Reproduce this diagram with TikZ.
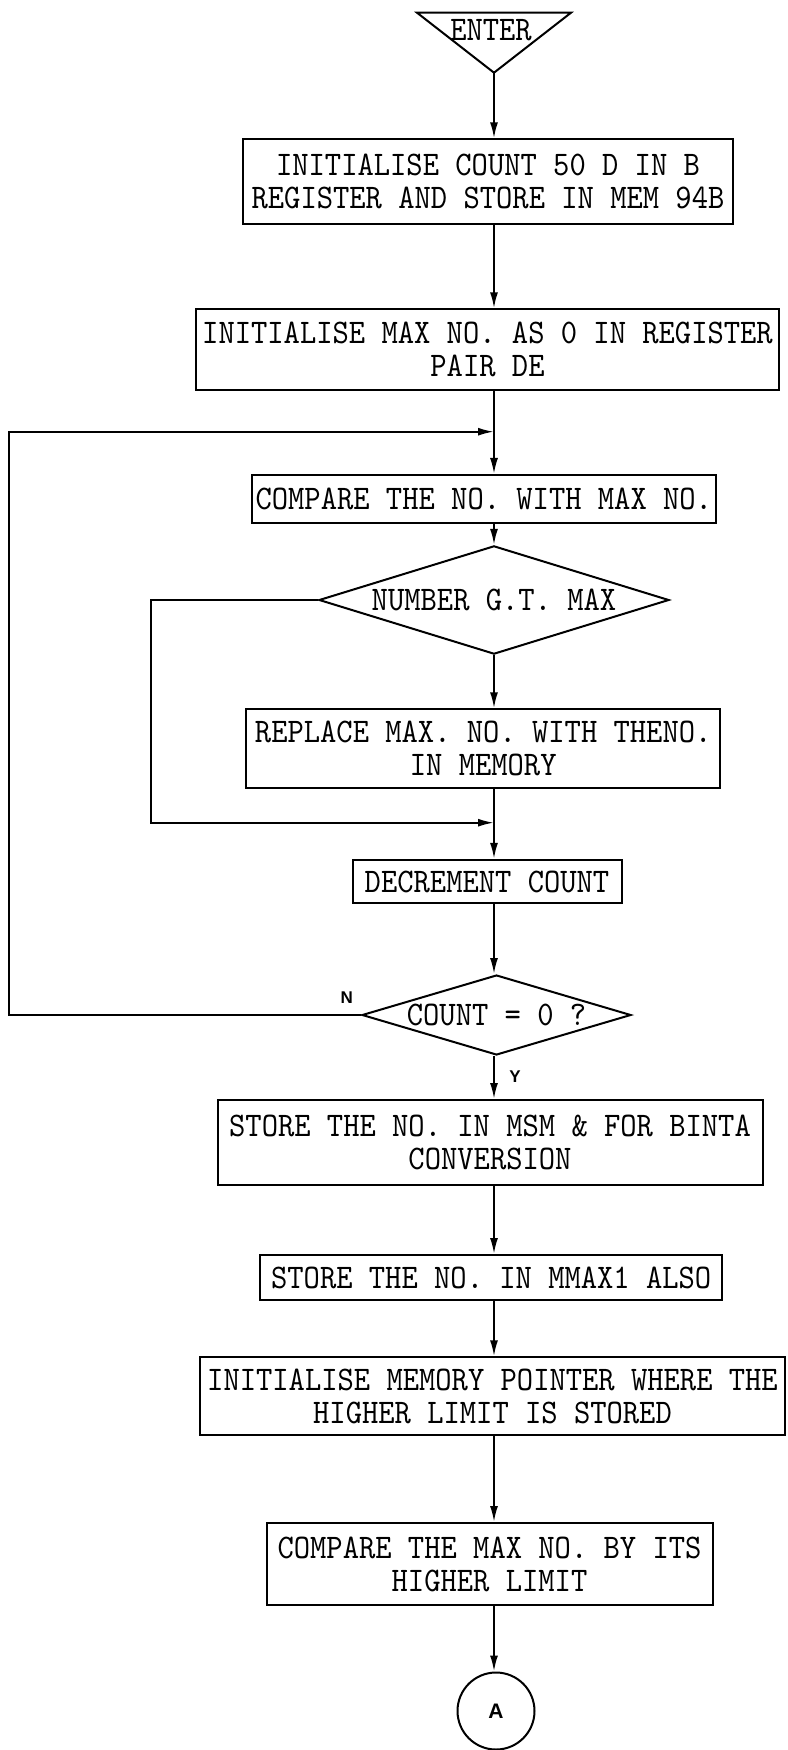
\documentclass[tikz,border=0pt]{standalone}
\usepackage{fontspec}
\newfontfamily\tw{lmmono10-regular.otf}[FakeStretch=0.9]
\newfontfamily\lbl{Liberation Sans}
\usetikzlibrary{arrows.meta,shapes.geometric}
\begin{document}
\begin{tikzpicture}[x=1pt,y=-1pt,
  line width=2pt,
  >={Latex[length=16pt,width=8pt]},
  txt/.style={font=\tw\fontsize{34.5}{33}\selectfont},
  box/.style={txt, draw, rectangle, inner sep=0pt, align=center},
  dec/.style={txt, draw, diamond, inner sep=0pt, align=center},
  lab/.style={font=\lbl\bfseries\fontsize{17}{17}\selectfont, inner sep=0pt},
  conn/.style={draw, circle, inner sep=0pt, minimum size=77pt, font=\lbl\bfseries\fontsize{21}{21}\selectfont}
]
\useasboundingbox (0,0) rectangle (787,1750);
\fill[white] (0,0) rectangle (787,1750);

% trunk and loop reference coordinates
\coordinate (T) at (494,0);
\coordinate (L) at (8.5,0);
\coordinate (M) at (151,0);
\coordinate (J1) at (494,431.7);
\coordinate (J2) at (494,822.7);

% entry triangle
\draw (417,12.7) -- (571,12.7) -- (494,72.7) -- cycle;
\coordinate (apex) at (494,72.7);
\node[txt, inner sep=0pt] (enter) at (491,30) {ENTER};

\node[box, minimum width=489.5pt, minimum height=84.7pt] (b1) at (488,181.7)
  {INITIALISE COUNT 50 D IN B\\REGISTER AND STORE IN MEM 94B};
\node[box, minimum width=583pt, minimum height=80.7pt] (b2) at (487.5,349.7)
  {INITIALISE MAX NO. AS 0 IN REGISTER\\PAIR DE};
\node[box, minimum width=464.5pt, minimum height=47.7pt] (b3) at (483.8,498.8)
  {COMPARE THE NO. WITH MAX NO.};
\node[dec, aspect=3.23, minimum width=350pt, minimum height=108.3pt] (d1) at (494,600)
  {NUMBER G.T. MAX};
\node[box, minimum width=473.5pt, minimum height=78.4pt] (b4) at (483.2,748.5)
  {REPLACE MAX. NO. WITH THENO.\\IN MEMORY};
\node[box, minimum width=269pt, minimum height=43.3pt] (b5) at (487,881.5)
  {DECREMENT COUNT};
\node[dec, aspect=3.36, minimum width=269pt, minimum height=80pt] (d2) at (496.5,1015)
  {COUNT = 0 ?};
\node[box, minimum width=545pt, minimum height=85pt] (b6) at (490,1142.5)
  {STORE THE NO. IN MSM \& FOR BINTA\\CONVERSION};
\node[box, minimum width=462.5pt, minimum height=45pt] (b7) at (491.2,1277.5)
  {STORE THE NO. IN MMAX1 ALSO};
\node[box, minimum width=585pt, minimum height=78pt] (b8) at (492.5,1396.3)
  {INITIALISE MEMORY POINTER WHERE THE\\HIGHER LIMIT IS STORED};
\node[box, minimum width=446pt, minimum height=82pt] (b9) at (489.5,1564)
  {COMPARE THE MAX NO. BY ITS\\HIGHER LIMIT};
\node[conn] (A) at (496,1711) {A};

\node[lab] (N) at (346.7,998) {N};
\node[lab] (Y) at (515,1077) {Y};

% connectors
\draw[->] (apex) -- (apex |- b1.north);
\draw[->] (b1.south -| T) -- (b2.north -| T);
\draw[->] (b2.south -| T) -- (b3.north -| T);
\draw[->] (b3.south -| T) -- (d1.north);
\draw[->] (d1.south) -- (b4.north -| T);
\draw[->] (b4.south -| T) -- (b5.north -| T);
\draw[->] (d1.west) -- (d1.west -| M) |- (J2);
\draw[->] (b5.south -| T) -- (d2.north -| T);
\draw[->] (d2.west) -- (d2.west -| L) |- (J1);
\draw[->] (d2.south -| T) -- (b6.north -| T);
\draw[->] (b6.south -| T) -- (b7.north -| T);
\draw[->] (b7.south -| T) -- (b8.north -| T);
\draw[->] (b8.south -| T) -- (b9.north -| T);
\draw[->] (b9.south -| T) -- (A.north -| T);
\end{tikzpicture}
\end{document}
